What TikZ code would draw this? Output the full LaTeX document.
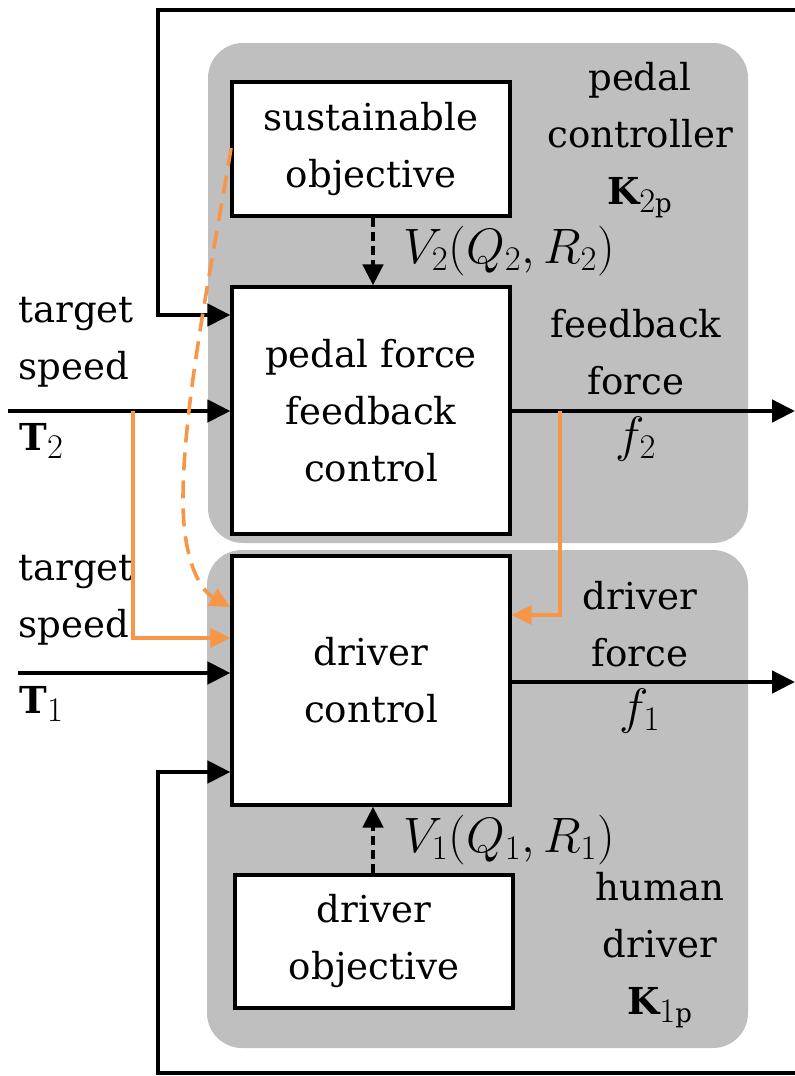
\documentclass[tikz,border=0pt]{standalone}
\usepackage{fontspec}
\setmainfont{DejaVu Serif}[Scale=0.79]
\usetikzlibrary{arrows.meta}
\definecolor{panelgray}{HTML}{BFBFBF}
\definecolor{accent}{HTML}{F79646}
\begin{document}
\begin{tikzpicture}[x=0.5pt,y=-0.5pt,
  every node/.style={font=\fontsize{23.5}{28.5}\selectfont},
  block/.style={draw=black, line width=1.6pt, fill=white, align=center, inner sep=0pt, minimum width=139pt},
  lbl/.style={align=center, inner sep=0pt},
  lbll/.style={align=left, inner sep=0pt, anchor=west},
  panel/.style={fill=panelgray, rounded corners=17.5pt},
  sig/.style={line width=2.3pt, -{Triangle[length=11.5pt,width=11pt]}},
  wsig/.style={line width=2.3pt, dash pattern=on 4.5pt off 2.5pt, -{Triangle[length=10.5pt,width=10pt]}},
  osig/.style={draw=accent, line width=1.8pt, -{Triangle[length=10pt,width=9.5pt]}},
  odash/.style={draw=accent, line width=1.8pt, dash pattern=on 9pt off 5pt, -{Triangle[length=10pt,width=9.5pt]}}]
\useasboundingbox (0,0) rectangle (795,1076);

% controller panels
\fill[panel] (208,43) rectangle (748,543);
\fill[panel] (207,550) rectangle (748,1048);

% blocks
\node[block, minimum height=67pt] (sust) at (371,149) {sustainable\\objective};
\node[block, minimum height=123.5pt] (pfc) at (371,410.5) {pedal force\\feedback\\control};
\node[block, minimum height=124.5pt] (drvc) at (371,680.5) {driver\\control};
\node[block, minimum height=66.5pt] (drvo) at (374,941.5) {driver\\objective};

% panel and signal labels
\node[lbl] (lpc) at (640,140) {pedal\\controller\\$\mathbf{K}_{2\mathrm{p}}$};
\node[lbl] (lff) at (636,385) {feedback\\force\\$f_2$};
\node[lbl] (ldf) at (640,657) {driver\\force\\$f_1$};
\node[lbl] (lhd) at (660,950) {human\\driver\\$\mathbf{K}_{1\mathrm{p}}$};
\node[lbll] (lts2) at (18,342) {target\\speed};
\node[lbll] (lT2) at (19,441) {$\mathbf{T}_2$};
\node[lbll] (lts1) at (18,600) {target\\speed};
\node[lbll] (lT1) at (19,704) {$\mathbf{T}_1$};
\node[lbll] (lV2) at (403,251) {$V_2(Q_2,R_2)$};
\node[lbll] (lV1) at (403,840) {$V_1(Q_1,R_1)$};

% signal points
\coordinate (topR) at (795,10);
\coordinate (topL) at (158,10);
\coordinate (fbIn2) at (232,315);
\coordinate (botR) at (795,1073);
\coordinate (botL) at (158,1073);
\coordinate (fbIn1) at (232,772);
\coordinate (T2in) at (8,411);
\coordinate (T2br) at (133,411);
\coordinate (T2to1) at (232,638);
\coordinate (T1in) at (18,673);
\coordinate (f2out) at (795,411);
\coordinate (f2br) at (560,411);
\coordinate (f2to1) at (510,615);
\coordinate (f1out) at (795,682);
\coordinate (sustL) at (231,148);
\coordinate (crv) at (183,500);
\coordinate (crvEnd) at (230,607);

% feedback loops
\draw[sig] (topR) -- (topL) |- (pfc.west |- fbIn2);
\draw[sig] (botR) -- (botL) |- (drvc.west |- fbIn1);

% inputs
\draw[sig] (T2in) -- (pfc.west |- T2in);
\draw[sig] (T1in) -- (drvc.west |- T1in);
\draw[osig] (T2br) |- (drvc.west |- T2to1);

% outputs
\draw[sig] (pfc.east |- f2out) -- (f2out);
\draw[sig] (drvc.east |- f1out) -- (f1out);
\draw[osig] (f2br) |- (drvc.east |- f2to1);

% objective weights
\draw[wsig] (sust.south -| 373,0) -- (pfc.north -| 373,0);
\draw[wsig] (drvo.north -| 373,0) -- (drvc.south -| 373,0);

% sustainable objective acting on the driver
\draw[odash] (sustL) .. controls (215,250) and (183,400) .. (crv)
  .. controls (183,560) and (200,590) .. (crvEnd);
\end{tikzpicture}
\end{document}
